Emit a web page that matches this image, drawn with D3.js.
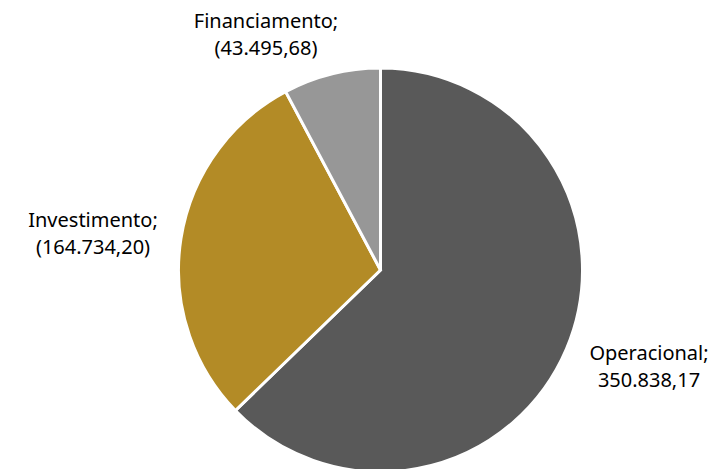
<html>
<head>
  <title></title>
</head>
<body style="margin:0">
<div id='graph-container'></div>
</body>
<script src="https://d3js.org/d3.v7.min.js"></script>
<script type="text/javascript">

var categories = ['Operacional', 'Investimento', 'Financiamento']
var values = [350838.17, -164734.20, -43495.68]
var labelTexts = ['350.838,17', '(164.734,20)', '(43.495,68)']
var colors = ['#595959', '#b38b26', '#979797']

var width = 717
var height = 469
var radius = 202
var cx = 380.5
var cy = 270

var data = categories.map((c, i) => ({name: c, value: values[i], label: labelTexts[i], color: colors[i]}))

var svg = d3.select('#graph-container').append('svg')
  .attr('width', width)
  .attr('height', height)

var pie = d3.pie().sort(null).value((d) => Math.abs(d.value))
var arc = d3.arc().innerRadius(0).outerRadius(radius)

var g = svg.append('g').attr('transform', `translate(${cx},${cy})`)

g.selectAll('path')
  .data(pie(data))
  .enter()
  .append('path')
  .attr('d', arc)
  .attr('fill', (d) => d.data.color)
  .attr('stroke', 'white')
  .attr('stroke-width', 3)

// label anchor points, placed outside the pie
var labelPos = {
  Operacional: [649, 360],
  Investimento: [93, 227],
  Financiamento: [266, 28]
}

data.forEach((d) => {
  var p = labelPos[d.name]
  var t = svg.append('text')
    .attr('x', p[0])
    .attr('y', p[1])
    .attr('text-anchor', 'middle')
    .style('font-family', '"Noto Sans", sans-serif')
    .style('font-size', '20px')
    .attr('fill', '#000')
  t.append('tspan').attr('x', p[0]).attr('dy', 0).text(d.name + ';')
  t.append('tspan').attr('x', p[0]).attr('dy', 27).text(d.label)
})

</script>
</html>
